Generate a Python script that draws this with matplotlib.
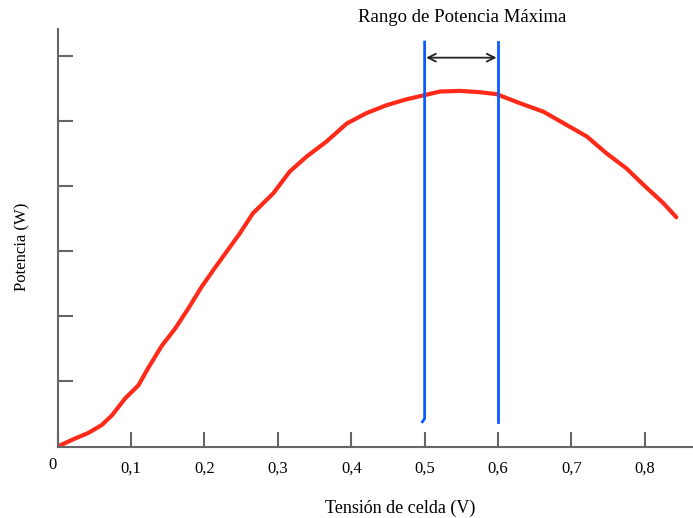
import matplotlib
matplotlib.use("Agg")
import matplotlib.pyplot as plt
from matplotlib.transforms import ScaledTranslation

# Curve: cell voltage (V) vs power (arbitrary units)
tension = [0.0, 0.019, 0.042, 0.060, 0.074, 0.092, 0.110, 0.123, 0.142, 0.160,
           0.178, 0.196, 0.214, 0.232, 0.248, 0.266, 0.294, 0.316, 0.339, 0.366,
           0.394, 0.421, 0.448, 0.475, 0.498, 0.521, 0.548, 0.575, 0.598, 0.630,
           0.662, 0.693, 0.721, 0.748, 0.775, 0.798, 0.825, 0.843]
potencia = [0.0, 0.10, 0.21, 0.33, 0.48, 0.74, 0.94, 1.20, 1.55, 1.81,
            2.12, 2.45, 2.74, 3.02, 3.27, 3.58, 3.89, 4.22, 4.45, 4.68,
            4.96, 5.12, 5.24, 5.33, 5.39, 5.45, 5.46, 5.44, 5.41, 5.27,
            5.14, 4.94, 4.76, 4.50, 4.27, 4.02, 3.74, 3.52]

rango = [0.5, 0.6]          # max power range bounds (V)
rango_y = [0.38, 6.21]      # vertical extent of the bound lines
flecha_y = 5.97

x_ticks = [0.0, 0.1, 0.2, 0.3, 0.4, 0.5, 0.6, 0.7, 0.8]
x_labels = ["0", "0,1", "0,2", "0,3", "0,4", "0,5", "0,6", "0,7", "0,8"]
y_ticks = [1, 2, 3, 4, 5, 6]

plt.rcParams['font.family'] = ['Liberation Serif', 'DejaVu Serif']

fig = plt.figure(figsize=(6.93, 5.18), dpi=100)
ax = fig.add_axes([0.0833, 0.138, 0.917, 0.806])

ax.plot(tension, potencia, color='#ff2a1a', linewidth=3.0,
        solid_capstyle='round', solid_joinstyle='round')

# bound lines (the left one has a small hook at its foot)
ax.plot([rango[0], rango[0], rango[0] - 0.003], [rango_y[1], rango_y[0] + 0.05, rango_y[0]],
        color='#0a5cff', linewidth=2.0)
ax.plot([rango[1], rango[1]], rango_y, color='#0a5cff', linewidth=2.0)

ax.annotate('', xy=(rango[0] + 0.002, flecha_y), xytext=(rango[1] - 0.002, flecha_y),
            arrowprops=dict(arrowstyle='<->', color='#222222', lw=1.3,
                            shrinkA=0, shrinkB=0, mutation_scale=14))

fig.text(462 / 693, 1 - 17 / 518, 'Rango de Potencia Máxima',
         ha='center', va='center', fontsize=13.5)

ax.set_xlim(0, 0.866)
ax.set_ylim(0, 6.41)

for side in ['top', 'right']:
    ax.spines[side].set_visible(False)
for side in ['left', 'bottom']:
    ax.spines[side].set_color('#666666')
    ax.spines[side].set_linewidth(1.5)

ax.set_xticks(x_ticks)
ax.set_xticklabels(x_labels, fontsize=12)
ax.set_yticks(y_ticks)
ax.set_yticklabels([])
ax.tick_params(axis='both', direction='in', length=10.5, width=1.5, color='#666666')
ax.tick_params(axis='x', pad=10)

# the "0" label sits a little left of and above the others
lbl0 = ax.get_xticklabels()[0]
lbl0.set_transform(lbl0.get_transform() + ScaledTranslation(-5 / 100, 3 / 100, fig.dpi_scale_trans))

ax.set_xlabel('Tensión de celda (V)', fontsize=13)
ax.set_ylabel('Potencia (W)', fontsize=12)
ax.xaxis.set_label_coords(0.539, -0.147)
ax.yaxis.set_label_coords(-0.056, 0.478)
ax.xaxis.label.set_va('center')
ax.yaxis.label.set_va('center')

fig.savefig('out.png', dpi=100)
